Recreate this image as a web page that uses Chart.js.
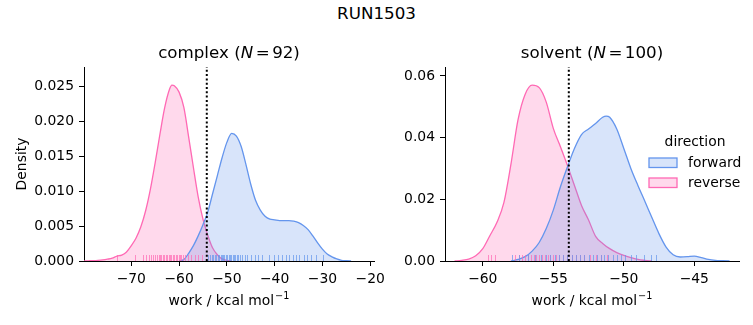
<!DOCTYPE html>
<html>
<head>
<meta charset="utf-8">
<script src="https://cdn.jsdelivr.net/npm/chart.js@4.4.0/dist/chart.umd.min.js"></script>
<style>
  html, body { margin: 0; padding: 0; background: #fff; }
  #wrap { position: relative; width: 753px; height: 325px; font-family: "DejaVu Sans", sans-serif; }
  #suptitle { position: absolute; left: 0; top: 5px; width: 753px; text-align: center;
              font-size: 16.7px; line-height: 16.7px; color: #000; }
  canvas { position: absolute; top: 0; }
</style>
</head>
<body>
<div id="wrap">
  <div id="suptitle">RUN1503</div>
  <canvas id="complex" width="390" height="325" style="left:0"></canvas>
  <canvas id="solvent" width="363" height="325" style="left:390px"></canvas>
</div>
<script>
// ── Data ──
const DIRECTIONS = ["forward", "reverse"];

// complex: KDE curves
const COMPLEX_FWD_X = [-60, -59, -58, -57, -56, -55, -54, -53, -52, -51, -50, -49, -48, -47, -46, -45, -44, -43, -42,
  -41, -40, -39, -38, -37, -36, -35, -34, -33, -32, -31, -30, -29, -28, -27, -26, -25, -24];
const COMPLEX_FWD_Y = [0, 0.0002, 0.0011, 0.0022, 0.0036, 0.0052, 0.0070, 0.0096, 0.0122, 0.0148, 0.0170, 0.0183,
  0.0179, 0.0164, 0.0138, 0.0110, 0.0087, 0.0073, 0.0064, 0.0060, 0.0059, 0.0058, 0.0058, 0.0058, 0.0057, 0.0055,
  0.0051, 0.0045, 0.0036, 0.0026, 0.0017, 0.0010, 0.0006, 0.0003, 0.0001, 0.00005, 0];
const COMPLEX_REV_X = [-80, -79, -78, -77, -76, -75, -74, -73, -72, -71, -70, -69, -68, -67, -66, -65, -64, -63, -62,
  -61.5, -61, -60, -59, -58, -57, -56, -55, -54, -53, -52, -51, -50, -49];
const COMPLEX_REV_Y = [0, 0.00003, 0.00006, 0.0001, 0.00016, 0.00026, 0.0004, 0.0007, 0.00085, 0.0013, 0.0022,
  0.0033, 0.0049, 0.0072, 0.0103, 0.0141, 0.0182, 0.0220, 0.0246, 0.0252, 0.0251, 0.0242, 0.0220, 0.0178, 0.0134,
  0.0092, 0.0060, 0.0037, 0.0019, 0.0009, 0.0003, 0.0001, 0];

// complex: rug (individual work values)
const COMPLEX_FWD_RUG = [-54.0, -53.6, -53.2, -52.9, -52.5, -52.2, -51.9, -51.6, -51.3, -51.0, -50.8, -50.5, -50.2,
  -49.9, -49.6, -49.3, -49.1, -48.8, -48.5, -48.2, -47.9, -47.6, -47.2, -46.8, -46.3, -45.7, -45.0, -44.2, -43.5,
  -42.6, -41.2, -40.1, -39.3, -38.4, -37.6, -36.9, -36.2, -35.5, -34.8, -33.9, -33.2, -32.4, -31.3, -29.8];
const COMPLEX_REV_RUG = [-73.0, -69.2, -67.6, -67.0, -66.2, -65.8, -65.4, -65.0, -64.6, -64.3, -64.0, -63.7, -63.4,
  -63.1, -62.8, -62.5, -62.2, -61.9, -61.6, -61.3, -61.0, -60.7, -60.4, -60.1, -59.8, -59.5, -59.1, -58.7, -58.1,
  -57.4, -56.6, -56.0, -55.1];

// solvent: KDE curves
const SOLVENT_FWD_X = [-58, -57.5, -57, -56.5, -56, -55.5, -55, -54.5, -54, -53.5, -53, -52.5, -52, -51.5, -51.25,
  -51, -50.5, -50, -49.5, -49, -48.5, -48, -47.5, -47, -46.5, -46, -45.5, -45, -44.5, -44, -43.5, -43, -42.5];
const SOLVENT_FWD_Y = [0, 0.0005, 0.0014, 0.0032, 0.0060, 0.0105, 0.0165, 0.0240, 0.0305, 0.0365, 0.0410, 0.0428,
  0.0446, 0.0466, 0.0470, 0.0466, 0.0428, 0.0365, 0.0300, 0.0245, 0.0193, 0.0140, 0.0088, 0.0045, 0.0020, 0.0013,
  0.0014, 0.0016, 0.0011, 0.0005, 0.0002, 0.0001, 0];
const SOLVENT_REV_X = [-62, -61.5, -61, -60.5, -60, -59.5, -59, -58.5, -58, -57.5, -57, -56.5, -56, -55.5, -55,
  -54.5, -54, -53.5, -53, -52.5, -52, -51.5, -51, -50.5, -50, -49.5, -49, -48.5, -48];
const SOLVENT_REV_Y = [0, 0.0002, 0.0006, 0.0017, 0.0040, 0.0082, 0.0125, 0.0190, 0.0315, 0.0458, 0.0540, 0.0570,
  0.0562, 0.0515, 0.0430, 0.0371, 0.0310, 0.0245, 0.0180, 0.0133, 0.0080, 0.0057, 0.0040, 0.0027, 0.0018, 0.0011,
  0.0005, 0.0002, 0];

// solvent: rug
const SOLVENT_FWD_RUG = [-57.9, -57.4, -56.8, -56.3, -55.9, -55.5, -55.2, -54.9, -54.6, -54.3, -54.0, -53.7, -53.4,
  -53.1, -52.8, -52.5, -52.2, -51.9, -51.6, -51.4, -51.1, -50.8, -50.5, -50.2, -49.9, -49.5, -49.1, -48.6, -48.1,
  -47.7];
const SOLVENT_REV_RUG = [-59.6, -59.4, -59.1, -57.7, -57.4, -57.2, -57.0, -56.8, -56.6, -56.4, -56.2, -56.0, -55.8,
  -55.6, -55.4, -55.2, -55.0, -54.8, -54.6, -54.3, -54.0, -53.7, -53.4, -53.1, -52.8, -52.4, -52.0, -51.6, -51.2];

// free energy estimate (dotted line) and sample counts
const COMPLEX_DG = -54.2;
const SOLVENT_DG = -53.9;
const COMPLEX_N = 92;
const SOLVENT_N = 100;

// axis ticks
const COMPLEX_X_TICKS = [-70, -60, -50, -40, -30, -20];
const COMPLEX_Y_TICKS = [0, 0.005, 0.010, 0.015, 0.020, 0.025];
const SOLVENT_X_TICKS = [-60, -55, -50, -45];
const SOLVENT_Y_TICKS = [0, 0.02, 0.04, 0.06];

// ── Styles ──
const FONT = "'DejaVu Sans', sans-serif";
const COLORS = { forward: "rgb(100, 149, 237)", reverse: "rgb(255, 105, 180)" };
const FILLS = { forward: "rgba(100, 149, 237, 0.25)", reverse: "rgba(255, 105, 180, 0.25)" };
const RUGS = { forward: "rgba(100, 149, 237, 0.7)", reverse: "rgba(255, 105, 180, 0.7)" };

Chart.defaults.font.family = FONT;
Chart.defaults.color = "#000";

const fmt = (v, d) => v.toFixed(d).replace("-", "\u2212");

function kdeDataset(dir, xs, ys) {
  return {
    label: dir,
    data: xs.map((x, i) => ({ x, y: ys[i] })),
    borderColor: COLORS[dir],
    backgroundColor: FILLS[dir],
    borderWidth: 1.3,
    pointRadius: 0,
    fill: "origin",
    cubicInterpolationMode: "monotone"
  };
}

// titles, axis labels, rug, dotted line and legend
function decorPlugin(p) {
  return {
    id: "decor_" + p.name,
    afterDatasetsDraw(chart) {
      const { ctx, chartArea: a, scales: { x } } = chart;
      ctx.save();
      ctx.lineWidth = 1;
      [["reverse", p.revRug], ["forward", p.fwdRug]].forEach(([dir, vals]) => {
        ctx.strokeStyle = RUGS[dir];
        vals.forEach(v => {
          const px = Math.round(x.getPixelForValue(v)) + 0.5;
          ctx.beginPath();
          ctx.moveTo(px, a.bottom);
          ctx.lineTo(px, a.bottom - 6);
          ctx.stroke();
        });
      });
      // dotted line at the estimate
      const dx = x.getPixelForValue(p.dg);
      ctx.strokeStyle = "#000";
      ctx.lineWidth = 2;
      ctx.setLineDash([2, 2.3]);
      ctx.beginPath();
      ctx.moveTo(dx, a.bottom);
      ctx.lineTo(dx, a.top);
      ctx.stroke();
      ctx.restore();
    },
    afterDraw(chart) {
      const { ctx, chartArea: a } = chart;
      const cx = (a.left + a.right) / 2;
      ctx.save();
      ctx.fillStyle = "#000";
      ctx.textAlign = "left";
      ctx.textBaseline = "alphabetic";

      // subplot title with italic N (math spacing around "=")
      const reg = "16.7px " + FONT;
      const parts = [[p.name + " (", reg, 0], ["N", "italic " + reg, 2.5], ["=", reg, 2.5], [String(p.n), reg, 0], [")", reg, 0]];
      let w = 0;
      parts.forEach(([t, f, gap]) => { ctx.font = f; w += ctx.measureText(t).width + gap; });
      let tx = cx - w / 2;
      parts.forEach(([t, f, gap]) => { ctx.font = f; ctx.fillText(t, tx, 58); tx += ctx.measureText(t).width + gap; });

      // x label with superscript
      ctx.font = "13.9px " + FONT;
      const main = "work / kcal mol";
      const mw = ctx.measureText(main).width;
      ctx.font = "9.7px " + FONT;
      const sup = "\u22121";
      const sw = ctx.measureText(sup).width;
      const lx = cx - (mw + sw + 1) / 2;
      ctx.font = "13.9px " + FONT;
      ctx.fillText(main, lx, 305);
      ctx.font = "9.7px " + FONT;
      ctx.fillText(sup, lx + mw + 1, 298.5);

      // y label
      if (p.yLabel) {
        ctx.save();
        ctx.translate(22, (a.top + a.bottom) / 2);
        ctx.rotate(-Math.PI / 2);
        ctx.font = "13.9px " + FONT;
        ctx.textAlign = "center";
        ctx.textBaseline = "middle";
        ctx.fillText(p.yLabel, 0, 0);
        ctx.restore();
      }

      // legend
      if (p.legend) {
        const L = p.legend;
        ctx.font = "13.9px " + FONT;
        ctx.textAlign = "center";
        ctx.fillText("direction", L.x + 46, 146);
        ctx.textAlign = "left";
        DIRECTIONS.forEach((dir, i) => {
          const y = 158 + i * 20;
          ctx.fillStyle = FILLS[dir];
          ctx.fillRect(L.x, y, 28, 9.5);
          ctx.strokeStyle = COLORS[dir];
          ctx.lineWidth = 1.3;
          ctx.strokeRect(L.x, y, 28, 9.5);
          ctx.fillStyle = "#000";
          ctx.fillText(dir, L.x + 39, y + 8.8);
        });
      }
      ctx.restore();
    }
  };
}

function makePanel(canvasId, p) {
  return new Chart(document.getElementById(canvasId), {
    type: "line",
    data: {
      datasets: [
        kdeDataset("forward", p.fwdX, p.fwdY),
        kdeDataset("reverse", p.revX, p.revY)
      ]
    },
    options: {
      responsive: false,
      animation: false,
      events: [],
      layout: { padding: { left: 0, right: p.padRight, top: 67, bottom: 0 } },
      plugins: { legend: { display: false }, tooltip: { enabled: false } },
      scales: {
        x: {
          type: "linear", min: p.xMin, max: p.xMax,
          afterBuildTicks: s => { s.ticks = p.xTicks.map(v => ({ value: v })); },
          afterFit: s => { s.height = 64; },
          grid: { drawOnChartArea: false, drawTicks: true, tickLength: 5, color: "#000", lineWidth: 1 },
          border: { display: true, color: "#000", width: 1 },
          ticks: { font: { size: 13.9 }, padding: 5, maxRotation: 0, autoSkip: false, callback: v => fmt(v, 0) }
        },
        y: {
          type: "linear", min: 0, max: p.yMax,
          afterBuildTicks: s => { s.ticks = p.yTicks.map(v => ({ value: v })); },
          afterFit: s => { s.width = p.yAxisW; },
          grid: { drawOnChartArea: false, drawTicks: true, tickLength: 5, color: "#000", lineWidth: 1 },
          border: { display: true, color: "#000", width: 1 },
          ticks: { font: { size: 13.9 }, padding: 5, autoSkip: false, callback: v => fmt(v, p.yDec) }
        }
      }
    },
    plugins: [decorPlugin(p)]
  });
}

// ── Panels ──
makePanel("complex", {
  name: "complex", n: COMPLEX_N, dg: COMPLEX_DG,
  fwdX: COMPLEX_FWD_X, fwdY: COMPLEX_FWD_Y, revX: COMPLEX_REV_X, revY: COMPLEX_REV_Y,
  fwdRug: COMPLEX_FWD_RUG, revRug: COMPLEX_REV_RUG,
  xMin: -79.9, xMax: -19.2, xTicks: COMPLEX_X_TICKS,
  yMax: 0.0278, yTicks: COMPLEX_Y_TICKS, yDec: 3,
  yAxisW: 84, padRight: 12, yLabel: "Density"
});

makePanel("solvent", {
  name: "solvent", n: SOLVENT_N, dg: SOLVENT_DG,
  fwdX: SOLVENT_FWD_X, fwdY: SOLVENT_FWD_Y, revX: SOLVENT_REV_X, revY: SOLVENT_REV_Y,
  fwdRug: SOLVENT_FWD_RUG, revRug: SOLVENT_REV_RUG,
  xMin: -62.68, xMax: -41.83, xTicks: SOLVENT_X_TICKS,
  yMax: 0.0629, yTicks: SOLVENT_Y_TICKS, yDec: 2,
  yAxisW: 55, padRight: 14, legend: { x: 259 }
});
</script>
</body>
</html>
